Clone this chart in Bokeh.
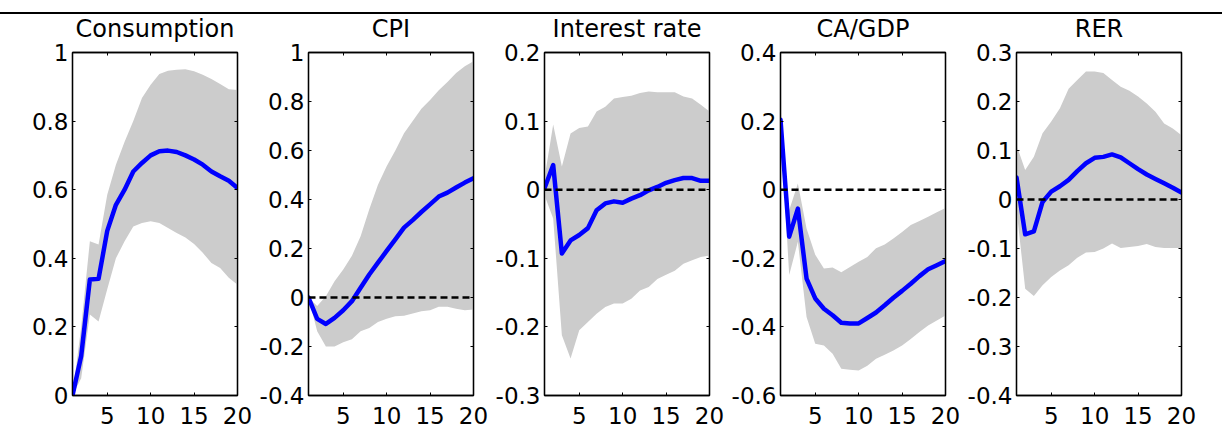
from bokeh.plotting import figure
from bokeh.layouts import row, column
from bokeh.models import (Range1d, FixedTicker, LinearAxis, CustomJSTickFormatter,
                          CustomLabelingPolicy, Span, Div, ColumnDataSource)
from bokeh.embed import file_html
from bokeh.resources import INLINE

# Impulse responses over a 20-period horizon: median with a credible band
horizon = list(range(1, 21))

consumption_median = [0.0, 0.115, 0.338, 0.34, 0.48, 0.556, 0.60, 0.653, 0.678, 0.70,
                      0.712, 0.714, 0.71, 0.70, 0.688, 0.673, 0.653, 0.639, 0.626, 0.605]
consumption_upper = [0.0, 0.2, 0.45, 0.44, 0.585, 0.673, 0.74, 0.80, 0.867, 0.906,
                     0.937, 0.947, 0.95, 0.951, 0.945, 0.935, 0.923, 0.908, 0.893, 0.891]
consumption_lower = [0.0, 0.05, 0.236, 0.216, 0.31, 0.40, 0.45, 0.493, 0.503, 0.508,
                     0.503, 0.488, 0.474, 0.461, 0.442, 0.416, 0.386, 0.372, 0.343, 0.323]

cpi_median = [0.0, -0.087, -0.108, -0.083, -0.052, -0.015, 0.04, 0.094, 0.142, 0.19,
              0.237, 0.285, 0.316, 0.349, 0.38, 0.412, 0.428, 0.449, 0.469, 0.487]
cpi_upper = [0.0, -0.035, 0.005, 0.066, 0.114, 0.17, 0.25, 0.36, 0.46, 0.536,
             0.60, 0.67, 0.72, 0.77, 0.806, 0.846, 0.88, 0.916, 0.944, 0.964]
cpi_lower = [0.0, -0.138, -0.2, -0.2, -0.183, -0.17, -0.138, -0.124, -0.1, -0.087,
             -0.077, -0.074, -0.065, -0.056, -0.052, -0.038, -0.038, -0.046, -0.052, -0.049]

rate_median = [0.002, 0.036, -0.093, -0.074, -0.066, -0.056, -0.03, -0.02, -0.017, -0.019,
               -0.013, -0.008, -0.001, 0.004, 0.010, 0.014, 0.017, 0.017, 0.013, 0.013]
rate_upper = [0.017, 0.095, 0.034, 0.082, 0.09, 0.092, 0.114, 0.121, 0.133, 0.135,
              0.137, 0.141, 0.143, 0.142, 0.142, 0.142, 0.136, 0.133, 0.124, 0.114]
rate_lower = [-0.008, -0.042, -0.212, -0.246, -0.205, -0.193, -0.181, -0.171, -0.166, -0.166,
              -0.159, -0.147, -0.142, -0.13, -0.124, -0.118, -0.108, -0.103, -0.098, -0.096]

ca_median = [0.204, -0.137, -0.055, -0.259, -0.317, -0.347, -0.366, -0.388, -0.39, -0.39,
             -0.374, -0.358, -0.337, -0.315, -0.295, -0.274, -0.252, -0.232, -0.22, -0.208]
ca_upper = [0.242, -0.06, 0.018, -0.113, -0.19, -0.23, -0.227, -0.241, -0.225, -0.21,
            -0.196, -0.171, -0.16, -0.142, -0.123, -0.103, -0.091, -0.079, -0.066, -0.053]
ca_lower = [0.19, -0.249, -0.152, -0.371, -0.449, -0.454, -0.478, -0.522, -0.525, -0.527,
            -0.513, -0.493, -0.481, -0.469, -0.454, -0.435, -0.415, -0.396, -0.381, -0.367]

rer_median = [0.045, -0.071, -0.065, -0.005, 0.016, 0.027, 0.04, 0.058, 0.074, 0.085,
              0.087, 0.092, 0.086, 0.074, 0.062, 0.051, 0.042, 0.033, 0.024, 0.014]
rer_upper = [0.111, 0.06, 0.087, 0.135, 0.159, 0.186, 0.226, 0.244, 0.261, 0.261,
             0.258, 0.244, 0.23, 0.222, 0.21, 0.196, 0.179, 0.155, 0.145, 0.131]
rer_lower = [-0.02, -0.182, -0.197, -0.175, -0.158, -0.145, -0.134, -0.119, -0.108, -0.107,
             -0.1, -0.09, -0.099, -0.097, -0.095, -0.091, -0.097, -0.099, -0.099, -0.099]

titles = ["Consumption", "CPI", "Interest rate", "CA/GDP", "RER"]
x_ticks = [5, 10, 15, 20]
y_ticks = [
    [0, 0.2, 0.4, 0.6, 0.8, 1],
    [-0.4, -0.2, 0, 0.2, 0.4, 0.6, 0.8, 1],
    [-0.3, -0.2, -0.1, 0, 0.1, 0.2],
    [-0.6, -0.4, -0.2, 0, 0.2, 0.4],
    [-0.4, -0.3, -0.2, -0.1, 0, 0.1, 0.2, 0.3],
]
series = [
    (consumption_median, consumption_lower, consumption_upper),
    (cpi_median, cpi_lower, cpi_upper),
    (rate_median, rate_lower, rate_upper),
    (ca_median, ca_lower, ca_upper),
    (rer_median, rer_lower, rer_upper),
]

FONT = "DejaVu Sans"
fmt = CustomJSTickFormatter(code="return tick.toString();")
# mirrored box axes carry tick marks only
no_labels = CustomLabelingPolicy(code="return new Set();")

PAD_RIGHT = 16


def style_axis(ax, ticks, show_labels):
    ax.ticker = FixedTicker(ticks=ticks)
    ax.formatter = fmt
    ax.major_tick_in = 3
    ax.major_tick_out = 0
    ax.minor_tick_line_color = None
    ax.axis_line_color = "black"
    ax.axis_line_width = 1.3
    ax.major_tick_line_color = "black"
    ax.major_tick_line_width = 1
    ax.major_label_text_font = FONT
    ax.major_label_text_color = "black"
    if show_labels:
        ax.major_label_text_font_size = "23px"
    else:
        ax.major_label_text_font_size = "1px"
        ax.major_label_standoff = 0
        ax.major_label_policy = no_labels


panels = []
for i, (name, yt, (med, lo, hi)) in enumerate(zip(titles, y_ticks, series)):
    src = ColumnDataSource(dict(t=horizon, med=med, lo=lo, hi=hi))
    p = figure(frame_width=165, frame_height=343,
               x_range=Range1d(horizon[0], horizon[-1]),
               y_range=Range1d(yt[0], yt[-1]),
               output_backend="svg", toolbar_location=None,
               min_border_left=72 if i == 0 else 71 - PAD_RIGHT,
               min_border_right=PAD_RIGHT,
               min_border_top=30, min_border_bottom=45,
               title=name)
    p.title.text_font = FONT
    p.title.text_font_size = "24px"
    p.title.text_font_style = "normal"
    p.title.text_color = "black"
    p.title.align = "center"
    p.title.standoff = 12
    p.xgrid.visible = False
    p.ygrid.visible = False
    p.outline_line_color = "black"
    p.outline_line_width = 1.3
    p.background_fill_color = "white"
    p.border_fill_alpha = 0

    style_axis(p.xaxis[0], x_ticks, True)
    p.xaxis[0].major_label_standoff = 11
    style_axis(p.yaxis[0], yt, True)
    p.yaxis[0].major_label_standoff = 4

    top = LinearAxis()
    style_axis(top, x_ticks, False)
    p.add_layout(top, "above")
    right = LinearAxis()
    style_axis(right, yt, False)
    p.add_layout(right, "right")

    p.varea(x="t", y1="lo", y2="hi", source=src, fill_color="#cccccc", fill_alpha=1.0)
    if yt[0] < 0 < yt[-1]:
        zero = Span(location=0, dimension="width", line_color="black",
                    line_width=2.5, line_dash="7 4", level="glyph")
        p.add_layout(zero)
    p.line(x="t", y="med", source=src, line_color="#0000ff", line_width=4.5,
           line_join="round", line_cap="round")
    panels.append(p)

rule = Div(text="", width=1222, height=2, margin=(12, 0, 0, 0),
           styles={"background-color": "black"})

# the panels slide up under the rule; their borders are transparent
panel_row = row(*panels, spacing=0, margin=(-8, 0, 0, 0))
layout = column(rule, panel_row, spacing=0)

with open("out.html", "w") as f:
    f.write(file_html(layout, INLINE))
